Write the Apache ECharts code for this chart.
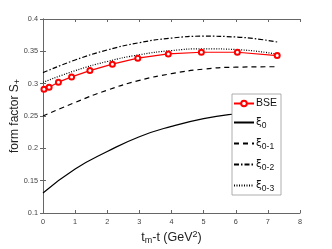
<!DOCTYPE html>
<html>
<head>
<meta charset="utf-8">
<script src="https://cdn.jsdelivr.net/npm/echarts@6/dist/echarts.min.js"></script>
<style>html,body{margin:0;padding:0;background:#fff}#c{width:332px;height:249px}</style>
</head>
<body>
<div id="c"></div>
<script>
var xTicks = [0, 1, 2, 3, 4, 5, 6, 7, 8];
var yTicks = [0.1, 0.15, 0.2, 0.25, 0.3, 0.35, 0.4];
var bseX = [0.03, 0.19, 0.48, 0.89, 1.46, 2.16, 2.95, 3.9, 4.93, 6.05, 7.29];
var bseY = [0.2915, 0.2946, 0.3023, 0.3105, 0.3202, 0.3301, 0.3394, 0.346, 0.3486, 0.3486, 0.3434];
var curveX = [0, 1, 2, 3, 4, 5, 6, 7.3];
var xi0 = [0.131, 0.168, 0.195, 0.218, 0.234, 0.246, 0.2535, 0.26];
var xi01 = [0.25, 0.271, 0.29, 0.305, 0.3155, 0.3225, 0.3255, 0.3262];
var xi02 = [0.317, 0.3366, 0.3521, 0.3634, 0.3705, 0.3734, 0.3722, 0.3643];
var xi03 = [0.302, 0.3201, 0.3343, 0.3447, 0.3512, 0.3539, 0.3528, 0.3455];
var legendNames = ['BSE', 'xi0', 'xi01', 'xi02', 'xi03'];
var legendLabels = {
  'BSE': 'BSE',
  'xi0': '{g|ξ}{s|0}',
  'xi01': '{g|ξ}{s|0-1}',
  'xi02': '{g|ξ}{s|0-2}',
  'xi03': '{g|ξ}{s|0-3}'
};

function pairs(xs, ys) { return xs.map(function (x, i) { return [x, ys[i]]; }); }

var axisColor = '#666';
var labelColor = '#444';
var FONT = 'Liberation Sans, Arial, sans-serif';

var chart = echarts.init(document.getElementById('c'), null, { renderer: 'canvas' });
function axisCommon(show) {
  return {
    axisLine: { show: true, lineStyle: { color: axisColor, width: 1 } },
    axisTick: { show: true, inside: true, length: 3, lineStyle: { color: axisColor } },
    axisLabel: { show: show, color: labelColor, fontSize: 7.3, fontFamily: FONT, margin: 5 },
    splitLine: { show: false }
  };
}
var legendData = legendNames.map(function (n) {
  return n === 'BSE' ? { name: n } : { name: n, itemStyle: { opacity: 0 } };
});
var option = {
  animation: false,
  backgroundColor: '#fff',
  grid: { left: 43, right: 32, top: 19, bottom: 36, containLabel: false, outerBoundsMode: 'none' },
  xAxis: [
    Object.assign({
      type: 'value', min: 0, max: 8, interval: 1, position: 'bottom',
      name: '{n|t}{s|m}{n|-t (GeV}{p|2}{n|)}', nameLocation: 'middle', nameGap: 17,
      nameTextStyle: { fontFamily: FONT, color: '#222', rich: {
        n: { fontSize: 12.5, fontFamily: FONT, color: '#222' },
        s: { fontSize: 9, fontFamily: FONT, color: '#222', padding: [6, 0, 0, 0] },
        p: { fontSize: 9, fontFamily: FONT, color: '#222', padding: [0, 0, 5, 0] }
      } }
    }, axisCommon(true)),
    Object.assign({ type: 'value', min: 0, max: 8, interval: 1, position: 'top' }, axisCommon(false))
  ],
  yAxis: [
    Object.assign({
      type: 'value', min: 0.1, max: 0.4, interval: 0.05, position: 'left',
      name: '{n|form factor S}{s|+}', nameLocation: 'middle', nameGap: 21, nameMoveOverlap: false,
      nameTextStyle: { fontFamily: FONT, color: '#222', rich: {
        n: { fontSize: 12, fontFamily: FONT, color: '#222' },
        s: { fontSize: 9, fontFamily: FONT, color: '#222', padding: [6, 0, 0, 0] }
      } }
    }, axisCommon(true)),
    Object.assign({ type: 'value', min: 0.1, max: 0.4, interval: 0.05, position: 'right' }, axisCommon(false))
  ],
  legend: {
    data: legendData,
    orient: 'vertical',
    left: 232, top: 94,
    width: 49,
    padding: [4, 4, 2, 1],
    itemGap: 8,
    itemWidth: 20, itemHeight: 7,
    backgroundColor: '#fff',
    borderColor: '#999', borderWidth: 0.8,
    formatter: function (n) { return legendLabels[n]; },
    textStyle: { fontFamily: FONT, fontSize: 10.5, color: '#111', padding: [0, 0, 0, -3], rich: {
      g: { fontSize: 10.5, fontFamily: 'DejaVu Sans', color: '#111' },
      s: { fontSize: 8.5, fontFamily: FONT, color: '#111', padding: [6, 0, 0, 0] }
    } }
  },
  series: [
    { name: 'BSE', type: 'line', data: pairs(bseX, bseY), color: '#ff0000',
      symbol: 'emptyCircle', symbolSize: 5, showAllSymbol: true,
      lineStyle: { color: '#ff0000', width: 1.2 }, itemStyle: { color: '#ff0000', borderWidth: 1 }, z: 5 },
    { name: 'xi0', type: 'line', data: pairs(curveX, xi0), smooth: true, symbol: 'none', color: '#000',
      lineStyle: { color: '#000', width: 1.2, type: 'solid' } },
    { name: 'xi01', type: 'line', data: pairs(curveX, xi01), smooth: true, symbol: 'none', color: '#000',
      lineStyle: { color: '#000', width: 1.2, type: [5, 4] } },
    { name: 'xi02', type: 'line', data: pairs(curveX, xi02), smooth: true, symbol: 'none', color: '#000',
      lineStyle: { color: '#000', width: 1.2, type: [5, 2, 1.5, 2] } },
    { name: 'xi03', type: 'line', data: pairs(curveX, xi03), smooth: true, symbol: 'none', color: '#000',
      lineStyle: { color: '#000', width: 1.2, type: [1, 1.5] } }
  ]
};
chart.setOption(option);
</script>
</body>
</html>
